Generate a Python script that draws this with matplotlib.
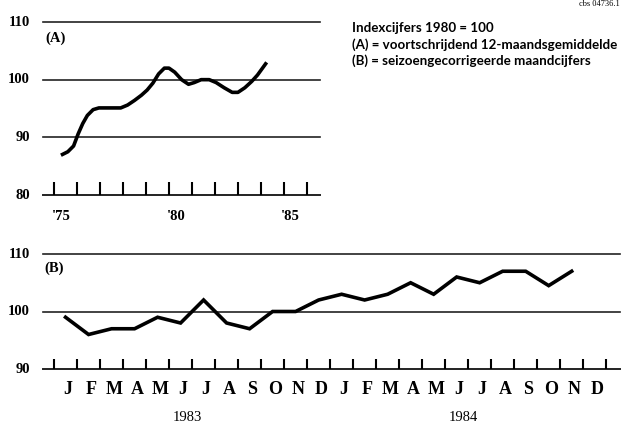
import numpy as np
import matplotlib
matplotlib.use("Agg")
import matplotlib.pyplot as plt

# (A) voortschrijdend 12-maandsgemiddelde, jaren
a_years = [1975.3, 1975.6, 1975.85, 1976.05, 1976.25, 1976.45, 1976.7, 1976.95,
           1977.4, 1977.9, 1978.2, 1978.5, 1978.8, 1979.05, 1979.3, 1979.55,
           1979.8, 1980.0, 1980.25, 1980.55, 1980.85, 1981.1, 1981.4, 1981.75,
           1982.05, 1982.4, 1982.75, 1983.0, 1983.3, 1983.6, 1983.85, 1984.05,
           1984.25]
a_values = [86.9, 87.5, 88.5, 90.6, 92.4, 93.8, 94.8, 95.1,
            95.1, 95.1, 95.6, 96.4, 97.3, 98.2, 99.4, 101.0,
            102.0, 102.0, 101.3, 100.0, 99.2, 99.5, 100.0, 100.0,
            99.5, 98.6, 97.8, 97.8, 98.6, 99.7, 100.8, 101.9,
            103.0]
a_ticks = list(range(1975, 1987))
a_labels = {1975: "'75", 1980: "'80", 1985: "'85"}

# (B) seizoengecorrigeerde maandcijfers, jan 1983 .. nov 1984
months = ["J", "F", "M", "A", "M", "J", "J", "A", "S", "O", "N", "D"] * 2
b_values = [99, 96, 97, 97, 99, 98, 102, 98, 97, 100, 100, 102,
            103, 102, 103, 105, 103, 106, 105, 107, 107, 104.5, 107]
years_b = ["1983", "1984"]

W, H = 625, 423
fig = plt.figure(figsize=(W / 100, H / 100), dpi=100)
fig.patch.set_facecolor("white")

serif = "Liberation Serif"
sans = "Lato"
lc = "#222222"


def px_axes(x0, y0, x1, y1):
    """axes from pixel box (top-left origin)"""
    return fig.add_axes([x0 / W, 1 - y1 / H, (x1 - x0) / W, (y1 - y0) / H])


def style(ax):
    ax.set_axis_off()
    ax.set_facecolor("none")


# ---- panel A ----
axA = px_axes(43, 22, 320, 195)
style(axA)
axA.set_xlim(1974.52, 1986.57)
axA.set_ylim(80, 110)
for v in [90, 100, 110]:
    axA.axhline(v, color=lc, lw=1.2, clip_on=False)
axA.axhline(80, color=lc, lw=1.4, clip_on=False)
axA.vlines(a_ticks, 80, 82.3, color="black", lw=1.5, clip_on=False, zorder=4)
axA.plot(a_years, a_values, color="black", lw=2.6, solid_capstyle="butt",
         solid_joinstyle="round", clip_on=False)
for v in [80, 90, 100, 110]:
    axA.text(-13 / 277, v, str(v), transform=axA.get_yaxis_transform(),
             ha="right", va="center", family=serif, fontweight="bold",
             fontsize=10.5)
for yr, lab in a_labels.items():
    axA.text(yr + 0.3, 76.2, lab, ha="center", va="center", family=serif,
             fontweight="bold", fontsize=10.5)
axA.text(0.01, 107.2, "(A)", transform=axA.get_yaxis_transform(),
         ha="left", va="center", family=serif, fontweight="bold", fontsize=10.5)

# ---- panel B ----
axB = px_axes(43, 254, 620, 369)
style(axB)
n = len(months)
axB.set_xlim(-0.48, 24.6)
axB.set_ylim(90, 110)
for v in [100, 110]:
    axB.axhline(v, color=lc, lw=1.2, clip_on=False)
axB.axhline(90, color=lc, lw=1.4, clip_on=False)
axB.vlines(np.arange(n + 1), 90, 91.7, color="black", lw=1.5, clip_on=False,
           zorder=4)
xb = np.arange(len(b_values)) + 0.5
axB.plot(xb, b_values, color="black", lw=2.6, solid_joinstyle="miter",
         clip_on=False)
for v in [90, 100, 110]:
    axB.text(-13 / 577, v, str(v), transform=axB.get_yaxis_transform(),
             ha="right", va="center", family=serif, fontweight="bold",
             fontsize=10.5)
for i, m in enumerate(months):
    axB.text(i + 0.6, 86.4, m, ha="center", va="center", family=serif,
             fontweight="bold", fontsize=13)
for k, yl in enumerate(years_b):
    axB.text(5.8 + 12 * k, 81.6, yl, ha="center", va="center", family=serif,
             fontsize=10.5)
axB.text(0.003, 107.6, "(B)", transform=axB.get_yaxis_transform(),
         ha="left", va="center", family=serif, fontweight="bold", fontsize=10.5)

# ---- toelichting ----
legend_lines = ["Indexcijfers 1980 = 100",
                "(A) = voortschrijdend 12-maandsgemiddelde",
                "(B) = seizoengecorrigeerde maandcijfers"]
for i, t in enumerate(legend_lines):
    fig.text(352 / W, 1 - (28 + 16.5 * i) / H, t, ha="left", va="center",
             family=[sans, "DejaVu Sans"], fontweight="bold", fontsize=9.6,
             color="black")
fig.text(620 / W, 1 - 4 / H, "cbs 04736.1", ha="right", va="center",
         family=serif, fontsize=6)

fig.savefig("out.png", dpi=100, facecolor="white")
